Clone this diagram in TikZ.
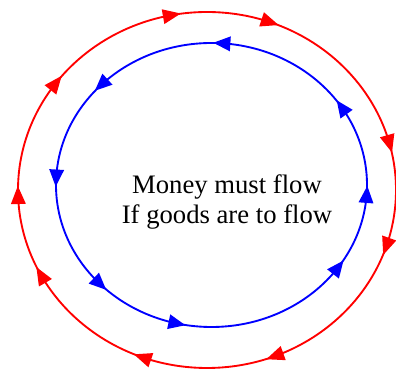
\documentclass[tikz,border=0pt]{standalone}
\usepackage{fontspec}
\setmainfont{Liberation Serif}
\begin{document}
\begin{tikzpicture}[x=0.75pt,y=0.75pt,
  loopline/.style={line width=1.4pt}]
\useasboundingbox (0,0) rectangle (396,373);
% outer red loop (clockwise)
\draw[loopline, red] (207,183) ellipse [x radius=189, y radius=178];
\foreach \t in {100.7,70.5,15,-18.5,-69,-110,208.5,181.6,143} {
  \pgfmathsetmacro\ang{atan2(-178*cos(\t), 189*sin(\t))}
  \path (207,183) ++ (\t:189 and 178) coordinate (p);
  \fill[red, shift={(p)}, rotate=\ang] (9,0) -- (-9,7.5) -- (-9,-7.5) -- cycle;
}
% inner blue loop (counter-clockwise)
\draw[loopline, blue] (211.5,188) ellipse [x radius=155.5, y radius=142];
\foreach \t in {86,135,177,224,257,324.4,356,33} {
  \pgfmathsetmacro\ang{atan2(142*cos(\t), -155.5*sin(\t))}
  \path (211.5,188) ++ (\t:155.5 and 142) coordinate (q);
  \fill[blue, shift={(q)}, rotate=\ang] (9,0) -- (-8,7.5) -- (-8,-7.5) -- cycle;
}
\node[align=center, font=\fontsize{20}{22}\selectfont] (txt) at (227,171) {Money must flow\\If goods are to flow};
\end{tikzpicture}
\end{document}
